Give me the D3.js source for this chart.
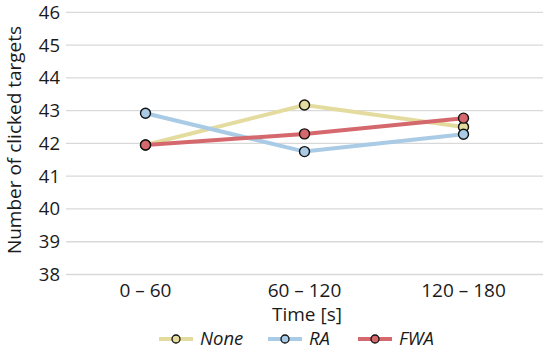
<!DOCTYPE html>
<html>
<head>
<meta charset="utf-8">
<script src="https://cdn.jsdelivr.net/npm/d3@7"></script>
<style>
  body { margin: 0; background: #fff; }
  text { font-family: "Open Sans", "Noto Sans", sans-serif; fill: #1a1a1a; }
</style>
</head>
<body>
<div id="chart"></div>
<script>
// chart data
var categories = ["0 \u2013 60", "60 \u2013 120", "120 \u2013 180"];
var yTicks = [38, 39, 40, 41, 42, 43, 44, 45, 46];
var seriesNames = ["None", "RA", "FWA"];
var noneValues = [41.95, 43.17, 42.5];
var raValues = [42.92, 41.75, 42.28];
var fwaValues = [41.95, 42.29, 42.77];

var colors = {None: "#e4db9e", RA: "#a9cbe5", FWA: "#d4686d"};
var series = [
  {name: "None", values: noneValues},
  {name: "RA", values: raValues},
  {name: "FWA", values: fwaValues}
];

var width = 550, height = 352;
var fontSize = "19px";
var svg = d3.select("#chart").append("svg")
  .attr("width", width).attr("height", height);

var x = d3.scalePoint().domain(categories).range([66, 543]).padding(0.5);
var y = d3.scaleLinear().domain([38, 46]).range([274.5, 12.3]);

// gridlines
svg.append("g").selectAll("line")
  .data(yTicks).enter().append("line")
  .attr("x1", 66).attr("x2", 543)
  .attr("y1", function (d) { return y(d); })
  .attr("y2", function (d) { return y(d); })
  .attr("stroke", "#d9d9d9").attr("stroke-width", 1.3);

// y tick labels
svg.append("g").selectAll("text")
  .data(yTicks).enter().append("text")
  .attr("x", 60)
  .attr("y", function (d) { return y(d); })
  .attr("dy", "0.35em")
  .attr("text-anchor", "end")
  .attr("font-size", "18.5px")
  .text(function (d) { return d; });

// x tick labels
svg.append("g").selectAll("text")
  .data(categories).enter().append("text")
  .attr("x", function (d) { return x(d); })
  .attr("y", 297)
  .attr("text-anchor", "middle")
  .attr("font-size", fontSize)
  .text(function (d) { return d; });

svg.append("text")
  .attr("x", 307).attr("y", 321)
  .attr("text-anchor", "middle")
  .attr("font-size", fontSize)
  .text("Time [s]");

svg.append("text")
  .attr("transform", "translate(21,140) rotate(-90)")
  .attr("text-anchor", "middle")
  .attr("font-size", fontSize)
  .text("Number of clicked targets");

var line = d3.line()
  .x(function (d, i) { return x(categories[i]); })
  .y(function (d) { return y(d); });

// lines
svg.append("g").selectAll("path")
  .data(series).enter().append("path")
  .attr("d", function (d) { return line(d.values); })
  .attr("fill", "none")
  .attr("stroke", function (d) { return colors[d.name]; })
  .attr("stroke-width", 4);

// markers
series.forEach(function (s) {
  svg.append("g").selectAll("circle")
    .data(s.values).enter().append("circle")
    .attr("cx", function (d, i) { return x(categories[i]); })
    .attr("cy", function (d) { return y(d); })
    .attr("r", 5)
    .attr("fill", colors[s.name])
    .attr("stroke", "#111").attr("stroke-width", 1.4);
});

// legend
var legendX = [159, 268, 358];
var legend = svg.append("g").selectAll("g")
  .data(seriesNames).enter().append("g")
  .attr("transform", function (d, i) { return "translate(" + legendX[i] + ",339)"; });

legend.append("line")
  .attr("x1", 0).attr("x2", 34)
  .attr("stroke", function (d) { return colors[d]; })
  .attr("stroke-width", 4);
legend.append("circle")
  .attr("cx", 17).attr("r", 4)
  .attr("fill", function (d) { return colors[d]; })
  .attr("stroke", "#111").attr("stroke-width", 1.3);
legend.append("text")
  .attr("x", 41).attr("dy", "0.33em")
  .attr("font-size", "18.5px")
  .attr("font-style", "italic")
  .text(function (d) { return d; });
</script>
</body>
</html>
